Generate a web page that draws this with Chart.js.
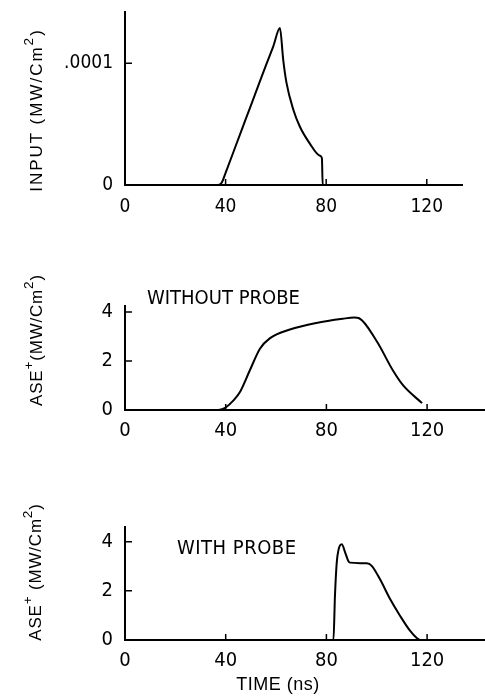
<!DOCTYPE html>
<html>
<head>
<meta charset="utf-8">
<script src="https://cdn.jsdelivr.net/npm/chart.js@4.4.1/dist/chart.umd.min.js"></script>
<style>
  body { margin: 0; background: #fff; }
  #wrap { position: relative; width: 485px; height: 696px; overflow: hidden; }
  canvas { position: absolute; left: 0; }
  .lbl {
    position: absolute; white-space: nowrap; line-height: 1; color: #000;
    font-family: "DejaVu Sans Condensed", "Liberation Sans Narrow", sans-serif;
  }
  .ytitle {
    position: absolute; white-space: nowrap; line-height: 1; color: #000;
    transform: translate(-50%, -50%) rotate(-90deg);
    font-family: "Liberation Sans", Arial, sans-serif; font-size: 17px;
  }
  sup { font-size: 0.8em; line-height: 0; vertical-align: 0.6em; }
</style>
</head>
<body>
<div id="wrap">
  <canvas id="inputChart" width="485" height="237" style="top:-12px"></canvas>
  <canvas id="noProbeChart" width="485" height="170" style="top:280px"></canvas>
  <canvas id="probeChart" width="485" height="180" style="top:500px"></canvas>

  <div class="ytitle" style="left:36px;top:110px;letter-spacing:2px">INPUT (MW/Cm<sup>2</sup>)</div>
  <div class="ytitle" style="left:36px;top:340px;letter-spacing:0.8px">ASE<sup>+</sup>(MW/Cm<sup>2</sup>)</div>
  <div class="ytitle" style="left:35px;top:572px;letter-spacing:0.8px">ASE<sup>+</sup> (MW/Cm<sup>2</sup>)</div>

  <div class="lbl" style="left:147px;top:287px;font-size:20px">WITHOUT PROBE</div>
  <div class="lbl" style="left:177px;top:537px;font-size:20px;letter-spacing:0.5px">WITH PROBE</div>
  <div class="lbl" style="left:278px;top:684px;font-size:18px;font-family:'Liberation Sans',Arial,sans-serif;letter-spacing:0.5px;transform:translate(-50%,-50%)">TIME (ns)</div>
</div>

<script>
// tick labels
const timeTicks = [0, 40, 80, 120];
const inputTicks = [0, 0.0001];
const aseTicks = [0, 2, 4];

// input pulse (MW/cm^2)
const inputTime = [0, 37, 38.5, 40, 44, 48, 52, 56, 59, 61.6, 62.9, 64.2, 66.9, 69.5, 73.5, 77.5, 78.3, 78.6, 134];
const inputPower = [0, 0, 0.02e-4, 0.1e-4, 0.32e-4, 0.54e-4, 0.76e-4, 0.98e-4, 1.14e-4, 1.288e-4,
  1.03e-4, 0.84e-4, 0.62e-4, 0.48e-4, 0.34e-4, 0.24e-4, 0.22e-4, 0, 0];

// ASE+ without probe (MW/cm^2)
const noProbeTime = [0, 37, 38.5, 40, 43, 45.6, 49.6, 53.6, 57.5, 65.5, 76, 86.5, 91, 93, 100, 106.5, 110.5, 118];
const noProbeAse = [0, 0, 0.03, 0.1, 0.38, 0.72, 1.62, 2.5, 2.92, 3.28, 3.55, 3.72, 3.77, 3.74, 2.8, 1.6, 1.0, 0.28];

// ASE+ with probe (MW/cm^2)
const probeTime = [0, 82.8, 83.4, 84.1, 84.8, 86.1, 87.4, 88.7, 89.4, 96, 98, 101.3, 105.3, 109.3, 113.2, 115.9, 117.2, 143];
const probeAse = [0, 0, 1.8, 3.14, 3.67, 3.9, 3.58, 3.22, 3.15, 3.12, 3.02, 2.47, 1.67, 0.98, 0.38, 0.08, 0, 0];

const FONT = "'DejaVu Sans Condensed', 'Liberation Sans Narrow', sans-serif";

// small ticks pointing into the plot
const inwardTicks = {
  id: "inwardTicks",
  afterDatasetsDraw(chart) {
    const { ctx } = chart;
    const x = chart.scales.x;
    const y = chart.scales.y;
    ctx.save();
    ctx.strokeStyle = "#000";
    ctx.lineWidth = 1.5;
    ctx.beginPath();
    x.ticks.forEach((t) => {
      if (t.value === 0) return;
      const px = x.getPixelForValue(t.value);
      ctx.moveTo(px, y.bottom);
      ctx.lineTo(px, y.bottom - 6);
    });
    y.ticks.forEach((t) => {
      if (t.value === 0) return;
      const py = y.getPixelForValue(t.value);
      ctx.moveTo(x.left, py);
      ctx.lineTo(x.left + 7, py);
    });
    ctx.stroke();
    ctx.restore();
  },
};

function makePanel(id, times, values, yTicks, yMax, xMax, pad, fontSize, xPad, yLabel) {
  const points = times.map((t, i) => ({ x: t, y: values[i] }));
  return new Chart(document.getElementById(id).getContext("2d"), {
    type: "line",
    data: {
      datasets: [
        {
          data: points,
          borderColor: "#000",
          borderWidth: 2,
          pointRadius: 0,
          fill: false,
          cubicInterpolationMode: "monotone",
        },
      ],
    },
    options: {
      responsive: false,
      animation: false,
      events: [],
      layout: { padding: { top: pad.top, right: pad.right, left: 0, bottom: 0 } },
      plugins: { legend: { display: false }, tooltip: { enabled: false } },
      scales: {
        x: {
          type: "linear",
          min: 0,
          max: xMax,
          grid: { display: false, drawTicks: false },
          border: { display: true, color: "#000", width: 2 },
          ticks: { color: "#000", padding: xPad, font: { family: FONT, size: fontSize } },
          afterBuildTicks: (s) => { s.ticks = timeTicks.map((v) => ({ value: v })); },
          afterFit: (s) => { s.height = 40; },
        },
        y: {
          min: 0,
          max: yMax,
          grid: { display: false, drawTicks: false },
          border: { display: true, color: "#000", width: 2 },
          ticks: {
            color: "#000",
            padding: 12,
            font: { family: FONT, size: fontSize },
            callback: yLabel,
          },
          afterBuildTicks: (s) => { s.ticks = yTicks.map((v) => ({ value: v })); },
          afterFit: (s) => { s.width = 125; },
        },
      },
    },
    plugins: [inwardTicks],
  });
}

makePanel("inputChart", inputTime, inputPower, inputTicks, 1.42e-4, 134, { top: 24, right: 23 }, 19, 11,
  (v) => (v === 0 ? "0" : ".0001"));
makePanel("noProbeChart", noProbeTime, noProbeAse, aseTicks, 4.24, 143, { top: 26, right: 0 }, 20, 9,
  (v) => String(v));
makePanel("probeChart", probeTime, probeAse, aseTicks, 4.6, 143, { top: 27, right: 0 }, 20, 9,
  (v) => String(v));
</script>
</body>
</html>
